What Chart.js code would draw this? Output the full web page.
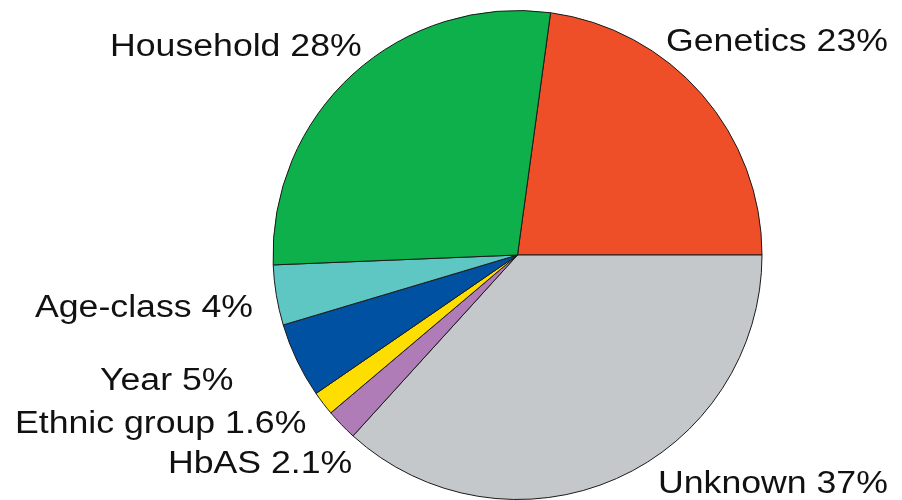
<!DOCTYPE html>
<html>
<head>
<meta charset="utf-8">
<script src="https://cdn.jsdelivr.net/npm/chart.js@4/dist/chart.umd.min.js"></script>
<style>
html,body{margin:0;padding:0;background:#fff;}
#wrap{width:902px;height:500px;position:relative;}
</style>
</head>
<body>
<div id="wrap"><canvas id="c" width="902" height="500"></canvas></div>
<script>
const categories = ["Genetics", "Unknown", "HbAS", "Ethnic group", "Year", "Age-class", "Household"];
const values = [23, 37, 2.1, 1.6, 5, 4, 28];
const valueLabels = ["23%", "37%", "2.1%", "1.6%", "5%", "4%", "28%"];
const colors = ["#ef4f28", "#c4c8ca", "#b07cb8", "#fedd00", "#0051a1", "#5ec6c3", "#0db04b"];
// label anchor (left x, baseline y) for each category text
const labelPos = [[666, 51], [658, 493], [168, 473], [15, 433], [100, 390], [35, 317], [110, 56]];

const total = values.reduce((a, b) => a + b, 0);
const rotation = 90 - values[0] / total * 360;

const labelPlugin = {
  id: 'outsideLabels',
  afterDraw(chart) {
    const ctx = chart.ctx;
    ctx.save();
    ctx.fillStyle = '#111';
    ctx.font = '31px "Liberation Sans", Arial, sans-serif';
    ctx.textBaseline = 'alphabetic';
    ctx.textAlign = 'left';
    categories.forEach((c, i) => {
      const [x, y] = labelPos[i];
      ctx.save();
      ctx.translate(x, y);
      ctx.scale(1.15, 1);
      ctx.fillText(c + ' ' + valueLabels[i], 0, 0);
      ctx.restore();
    });
    ctx.restore();
  }
};

new Chart(document.getElementById('c'), {
  type: 'pie',
  data: {
    labels: categories,
    datasets: [{
      data: values,
      backgroundColor: colors,
      borderColor: '#1a1a1a',
      borderWidth: 1
    }]
  },
  options: {
    responsive: false,
    animation: false,
    rotation: rotation,
    layout: { padding: { left: 133, right: 0, top: 10, bottom: 0 } },
    plugins: {
      legend: { display: false },
      tooltip: { enabled: false }
    }
  },
  plugins: [labelPlugin]
});
</script>
</body>
</html>
